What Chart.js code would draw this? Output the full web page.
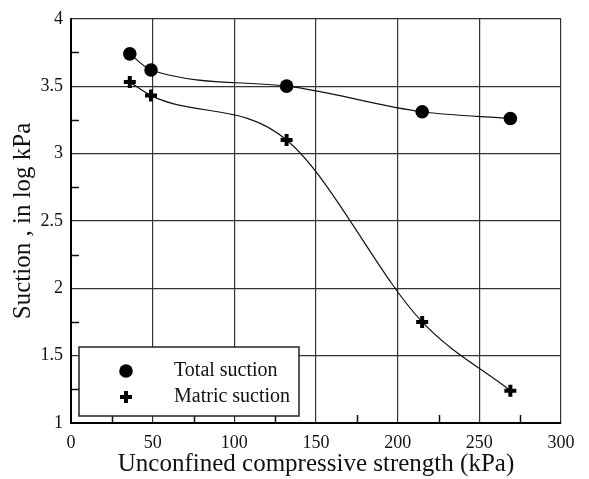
<!DOCTYPE html>
<html>
<head>
<meta charset="utf-8">
<script src="https://cdn.jsdelivr.net/npm/chart.js@4/dist/chart.umd.min.js"></script>
<style>
  html, body { margin: 0; padding: 0; background: #fff; }
  #wrap { width: 589px; height: 479px; }
</style>
</head>
<body>
<div id="wrap"><canvas id="chart" width="589" height="479"></canvas></div>
<script>
// values
const strength = [36, 49, 132, 215, 269];
const totalSuction = [3.74, 3.62, 3.50, 3.31, 3.26];
const matricSuction = [3.53, 3.43, 3.10, 1.75, 1.24];
const seriesNames = ['Total suction', 'Matric suction'];
const xMinorTicks = [25, 75, 125, 175, 225, 275];
const yMinorTicks = [1.25, 1.75, 2.25, 2.75, 3.25, 3.75];

const serif = "'Liberation Serif', 'Times New Roman', serif";

function pts(ys) {
  return strength.map((x, i) => ({ x: x, y: ys[i] }));
}

// inner tick marks (minor) like the original plot
const innerTicks = {
  id: 'innerTicks',
  afterDatasetsDraw(chart) {
    const { ctx, chartArea: a, scales: { x, y } } = chart;
    ctx.save();
    ctx.strokeStyle = '#111';
    ctx.lineWidth = 1.5;
    ctx.beginPath();
    xMinorTicks.forEach(v => {
      const px = Math.round(x.getPixelForValue(v)) + 0.5;
      ctx.moveTo(px, a.bottom); ctx.lineTo(px, a.bottom - 8);
    });
    yMinorTicks.forEach(v => {
      const py = Math.round(y.getPixelForValue(v)) + 0.5;
      ctx.moveTo(a.left, py); ctx.lineTo(a.left + 8, py);
    });
    ctx.stroke();
    ctx.restore();
  }
};

// boxed legend sitting inside the plot, lower left
const boxLegend = {
  id: 'boxLegend',
  afterDraw(chart) {
    const ctx = chart.ctx;
    const bx = 79, by = 347, bw = 220, bh = 69;
    ctx.save();
    ctx.fillStyle = '#fff';
    ctx.fillRect(bx, by, bw, bh);
    ctx.strokeStyle = '#222';
    ctx.lineWidth = 1.5;
    ctx.strokeRect(bx, by, bw, bh);

    const mx = 126;
    const rows = [371, 397];
    ctx.fillStyle = '#000';
    ctx.beginPath();
    ctx.arc(mx, rows[0], 6.8, 0, Math.PI * 2);
    ctx.fill();
    ctx.strokeStyle = '#000';
    ctx.lineWidth = 4;
    ctx.beginPath();
    ctx.moveTo(mx - 6, rows[1]); ctx.lineTo(mx + 6, rows[1]);
    ctx.moveTo(mx, rows[1] - 6); ctx.lineTo(mx, rows[1] + 6);
    ctx.stroke();

    ctx.font = '20px ' + serif;
    ctx.textBaseline = 'middle';
    ctx.textAlign = 'left';
    ctx.fillStyle = '#111';
    seriesNames.forEach((n, i) => ctx.fillText(n, 174, rows[i]));
    ctx.restore();
  }
};

new Chart(document.getElementById('chart'), {
  type: 'scatter',
  data: {
    datasets: [
      {
        label: seriesNames[0],
        data: pts(totalSuction),
        showLine: true,
        cubicInterpolationMode: 'monotone',
        borderColor: '#111',
        borderWidth: 1.2,
        pointStyle: 'circle',
        pointRadius: 6.8,
        pointBackgroundColor: '#000',
        pointBorderColor: '#000',
        pointBorderWidth: 0
      },
      {
        label: seriesNames[1],
        data: pts(matricSuction),
        showLine: true,
        cubicInterpolationMode: 'monotone',
        borderColor: '#111',
        borderWidth: 1.2,
        pointStyle: 'cross',
        pointRadius: 6,
        pointBorderColor: '#000',
        pointBorderWidth: 4
      }
    ]
  },
  options: {
    responsive: false,
    animation: false,
    layout: { padding: { left: 0, top: 15, right: 28, bottom: 0 } },
    plugins: {
      legend: { display: false },
      tooltip: { enabled: false }
    },
    scales: {
      x: {
        type: 'linear',
        min: 0, max: 300,
        ticks: { stepSize: 50, color: '#111', padding: 9, font: { family: serif, size: 18 } },
        grid: { color: '#333', lineWidth: 1.2, drawTicks: false },
        border: { color: '#000', width: 2 },
        title: {
          display: true,
          text: 'Unconfined compressive strength (kPa)',
          color: '#111',
          font: { family: serif, size: 25, lineHeight: 1 },
          padding: { top: 0, bottom: 2 }
        },
        afterFit(scale) { scale.height = 56; }
      },
      y: {
        type: 'linear',
        min: 1, max: 4,
        ticks: {
          stepSize: 0.5, color: '#111', padding: 8,
          font: { family: serif, size: 18 },
          callback: v => String(v)
        },
        grid: { color: '#333', lineWidth: 1.2, drawTicks: false },
        border: { color: '#000', width: 2 },
        title: {
          display: true,
          text: 'Suction , in log kPa',
          color: '#111',
          font: { family: serif, size: 25, lineHeight: 1 },
          padding: { top: 11, bottom: 0 }
        },
        afterFit(scale) { scale.width = 71; }
      }
    }
  },
  plugins: [innerTicks, boxLegend]
});
</script>
</body>
</html>
